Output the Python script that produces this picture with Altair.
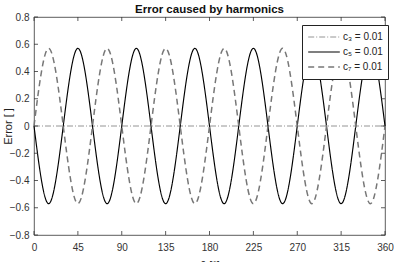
import altair as alt
import pandas as pd

# ---- data ----
angle_deg = [0, 15, 30, 45, 60, 75, 90, 105, 120, 135, 150, 165, 180,
             195, 210, 225, 240, 255, 270, 285, 300, 315, 330, 345, 360]
c5_err = [0, -0.57, 0, 0.57, 0, -0.57, 0, 0.57, 0, -0.57, 0, 0.57, 0,
          -0.57, 0, 0.57, 0, -0.57, 0, 0.57, 0, -0.57, 0, 0.57, 0]
c7_err = [0, 0.57, 0, -0.57, 0, 0.57, 0, -0.57, 0, 0.57, 0, -0.57, 0,
          0.57, 0, -0.57, 0, 0.57, 0, -0.57, 0, 0.57, 0, -0.57, 0]
c3_angle = [0, 360]
c3_err = [0, 0]

series_names = ["c\u2083 = 0.01", "c\u2085 = 0.01", "c\u2087 = 0.01"]
x_ticks = [0, 45, 90, 135, 180, 225, 270, 315, 360]
y_ticks = [-0.8, -0.6, -0.4, -0.2, 0, 0.2, 0.4, 0.6, 0.8]

rows = []
for a, e in zip(c3_angle, c3_err):
    rows.append({"angle": a, "err": e, "series": series_names[0]})
for a, e in zip(angle_deg, c5_err):
    rows.append({"angle": a, "err": e, "series": series_names[1]})
for a, e in zip(angle_deg, c7_err):
    rows.append({"angle": a, "err": e, "series": series_names[2]})
df = pd.DataFrame(rows)

W, H = 351, 218
FONT = "Liberation Sans"
AX = "#333333"

xscale = alt.Scale(domain=[0, 360], nice=False)
yscale = alt.Scale(domain=[-0.8, 0.8], nice=False)

x_axis = alt.Axis(values=x_ticks, title="\u03b8 [\u00b0]", ticks=False,
                  domain=False, grid=False, labelPadding=7,
                  titlePadding=7, labelFlush=False, labelOverlap=False)
y_axis = alt.Axis(values=y_ticks, title="Error [ ]", ticks=False,
                  domain=False, grid=False, labelPadding=5,
                  titleX=-21, format=".1~f", labelFlush=False,
                  labelOverlap=False)

lines = alt.Chart(df).mark_line(interpolate="natural").encode(
    x=alt.X("angle:Q", scale=xscale, axis=x_axis),
    y=alt.Y("err:Q", scale=yscale, axis=y_axis),
    color=alt.Color("series:N", title=None,
                    scale=alt.Scale(domain=series_names,
                                    range=["#7a7a7a", "#000000", "#777777"])),
    strokeDash=alt.StrokeDash("series:N", title=None,
                              scale=alt.Scale(domain=series_names,
                                              range=[[6, 2, 1, 2], [1, 0], [6, 4]])),
    strokeWidth=alt.StrokeWidth("series:N", title=None,
                                scale=alt.Scale(domain=series_names,
                                                range=[0.8, 1.5, 0.6])),
    detail="series:N",
)

xt = pd.DataFrame({"v": x_ticks})
yt = pd.DataFrame({"v": y_ticks})
tick_style = dict(color=AX, strokeWidth=0.8)
bottom_ticks = alt.Chart(xt).mark_rule(**tick_style).encode(
    x=alt.X("v:Q", scale=xscale, axis=x_axis), y=alt.value(H), y2=alt.value(H - 4))
top_ticks = alt.Chart(xt).mark_rule(**tick_style).encode(
    x=alt.X("v:Q", scale=xscale, axis=x_axis), y=alt.value(0), y2=alt.value(4))
left_ticks = alt.Chart(yt).mark_rule(**tick_style).encode(
    y=alt.Y("v:Q", scale=yscale, axis=y_axis), x=alt.value(0), x2=alt.value(4))
right_ticks = alt.Chart(yt).mark_rule(**tick_style).encode(
    y=alt.Y("v:Q", scale=yscale, axis=y_axis), x=alt.value(W), x2=alt.value(W - 4))

chart = alt.layer(lines, bottom_ticks, top_ticks, left_ticks, right_ticks).properties(
    width=W, height=H,
    title=alt.TitleParams("Error caused by harmonics", fontSize=11.5,
                          fontWeight="bold", font=FONT, color="#111111",
                          offset=3, frame="group", dy=6),
    autosize=alt.AutoSizeParams(type="none"),
    padding={"left": 34, "top": 17, "right": 9, "bottom": 27},
).configure(font=FONT, background="white").configure_view(
    stroke=AX, strokeWidth=0.8
).configure_axis(
    labelFont=FONT, labelFontSize=10, labelColor=AX,
    titleFont=FONT, titleFontSize=11, titleFontWeight="normal", titleColor="#222222",
).configure_legend(
    orient="none", legendX=268, legendY=8,
    fillColor="white", strokeColor="#222222", padding=5,
    symbolType="stroke", symbolSize=1000, clipHeight=14, rowPadding=1,
    labelFont=FONT, labelFontSize=10, labelColor="#222222", labelOffset=2,
)

chart.save("out.html", embed_options={"renderer": "svg", "actions": False})
